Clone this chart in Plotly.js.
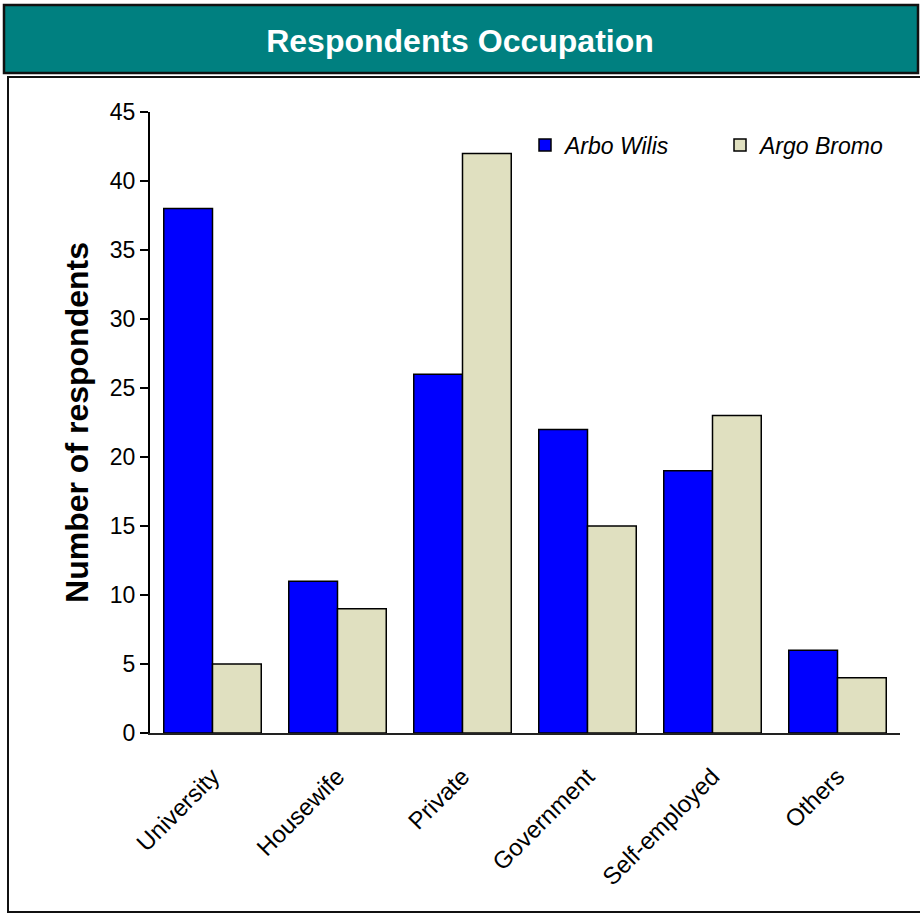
<!DOCTYPE html>
<html>
<head>
<meta charset="utf-8">
<script src="https://cdn.plot.ly/plotly-3.0.1.min.js"></script>
<style>
  html, body { margin: 0; padding: 0; background: #ffffff; overflow: hidden; }
  #chart { width: 920px; height: 914px; }
</style>
</head>
<body>
<div id="chart"></div>
<script>
// Occupation categories and respondent counts per site
const categories = ["University", "Housewife", "Private", "Government", "Self-employed", "Others"];
const arboWilis = [38, 11, 26, 22, 19, 6];
const argoBromo = [5, 9, 42, 15, 23, 4];
const yTicks = [0, 5, 10, 15, 20, 25, 30, 35, 40, 45];

const FONT = "Liberation Sans, Arial, sans-serif";

const traces = [
  {
    type: "bar",
    name: "Arbo Wilis",
    x: categories,
    y: arboWilis,
    marker: { color: "#0000ff", line: { color: "#000000", width: 1.5 } },
    hoverinfo: "x+y+name"
  },
  {
    type: "bar",
    name: "Argo Bromo",
    x: categories,
    y: argoBromo,
    marker: { color: "#e0e0c0", line: { color: "#000000", width: 1.5 } },
    hoverinfo: "x+y+name"
  }
];

const layout = {
  width: 920,
  height: 914,
  margin: { l: 150, r: 20, t: 112, b: 181, pad: 0, autoexpand: false },
  paper_bgcolor: "#ffffff",
  plot_bgcolor: "rgba(0,0,0,0)",
  font: { family: FONT, color: "#000000", size: 22 },
  barmode: "group",
  bargap: 0.22,
  bargroupgap: 0,
  title: {
    text: "Respondents Occupation",
    font: { family: FONT, size: 32, color: "#ffffff", weight: 700 },
    x: 0.5,
    xanchor: "center",
    xref: "container",
    y: 0.955,
    yanchor: "middle",
    yref: "container"
  },
  xaxis: {
    type: "category",
    tickangle: -45,
    showgrid: false,
    zeroline: false,
    showline: true,
    linecolor: "#222222",
    linewidth: 2,
    ticks: "",
    ticklabelstandoff: 18,
    tickfont: { family: FONT, size: 24, color: "#000000" },
    automargin: false
  },
  yaxis: {
    range: [0, 45],
    tickvals: yTicks,
    ticktext: yTicks.map(String),
    showgrid: false,
    zeroline: false,
    showline: true,
    linecolor: "#000000",
    linewidth: 2,
    ticks: "outside",
    ticklen: 8,
    tickwidth: 1.5,
    tickcolor: "#000000",
    tickfont: { family: FONT, size: 23, color: "#000000" },
    automargin: false,
    title: {
      text: "Number of respondents",
      font: { family: FONT, size: 32, color: "#000000", weight: 700 },
      standoff: 12
    }
  },
  legend: {
    orientation: "h",
    x: 0.5,
    xanchor: "left",
    y: 0.9469,
    yanchor: "middle",
    bgcolor: "rgba(255,255,255,0)",
    borderwidth: 0,
    entrywidth: 150,
    font: { family: FONT, size: 23, color: "#000000", style: "italic" },
    traceorder: "normal"
  },
  showlegend: true,
  shapes: [
    // white framed panel behind the plot
    {
      type: "rect", xref: "paper", yref: "paper", layer: "below",
      x0: -0.18933, x1: 1.0333, y0: -0.28824, y1: 1.05636,
      fillcolor: "#ffffff", line: { color: "#111111", width: 2 }
    },
    // teal heading band
    {
      type: "rect", xref: "paper", yref: "paper", layer: "below",
      x0: -0.19467, x1: 1.024, y0: 1.0628, y1: 1.1723,
      fillcolor: "#008080", line: { color: "#111111", width: 2.5 }
    }
  ]
};

Plotly.newPlot("chart", traces, layout, { displayModeBar: false, responsive: false });
</script>
</body>
</html>
